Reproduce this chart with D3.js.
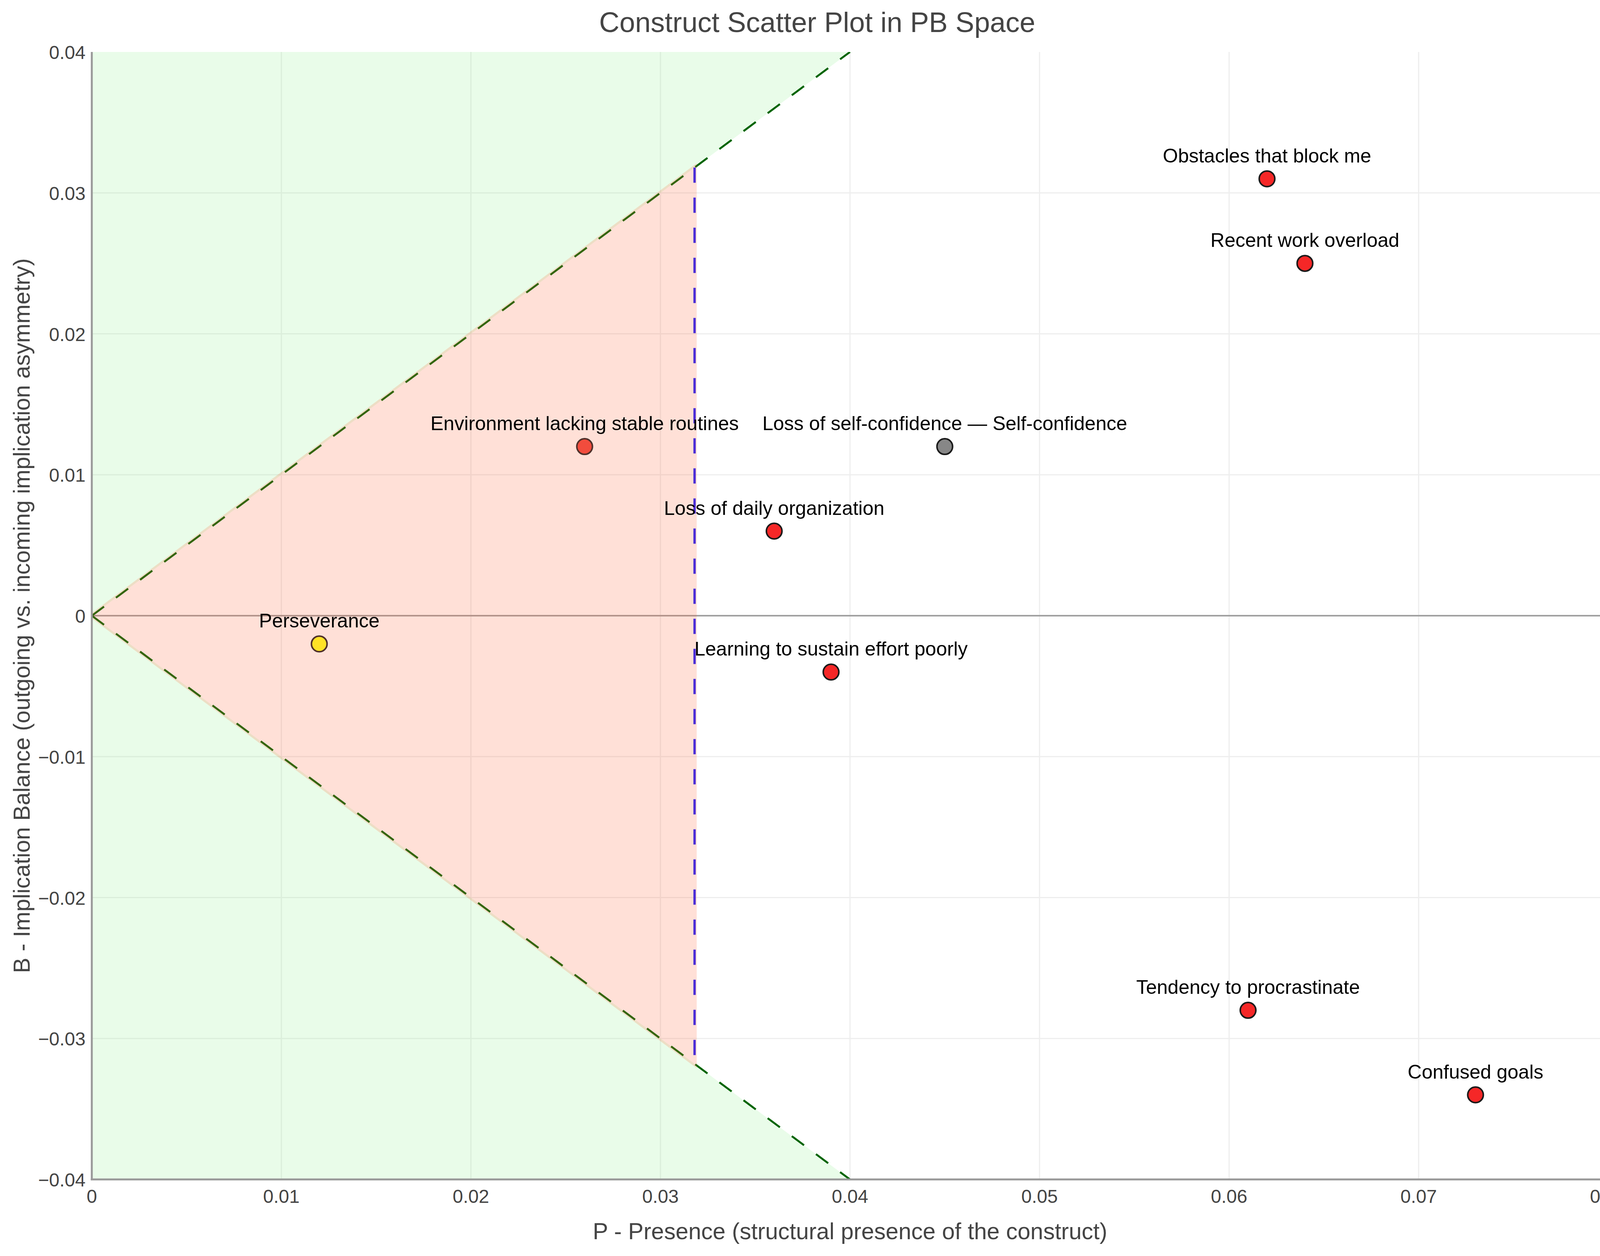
<!DOCTYPE html>
<html>
<head>
<meta charset="utf-8">
<script src="https://cdn.jsdelivr.net/npm/d3@7"></script>
<style>
  html, body { margin: 0; padding: 0; background: #fff; }
  svg { display: block; }
  text { font-family: "Liberation Sans", Arial, Helvetica, sans-serif; }
</style>
</head>
<body>
<svg id="chart" width="4183" height="3215"></svg>
<script>
// ---------- Data ----------
const constructNames = [
  "Obstacles that block me",
  "Recent work overload",
  "Environment lacking stable routines",
  "Loss of self-confidence — Self-confidence",
  "Loss of daily organization",
  "Perseverance",
  "Learning to sustain effort poorly",
  "Tendency to procrastinate",
  "Confused goals"
];
const presenceP = [0.062, 0.064, 0.026, 0.045, 0.036, 0.012, 0.039, 0.061, 0.073];
const balanceB  = [0.031, 0.025, 0.012, 0.012, 0.006, -0.002, -0.004, -0.028, -0.034];
const pointFill = ["#f52727", "#f52727", "#f24c3d", "#878787", "#f52727", "#ffe226", "#f52727", "#f52727", "#f52727"];
const pointStroke = ["#1a1a1a", "#1a1a1a", "#50302a", "#1a1a1a", "#1a1a1a", "#50302a", "#1a1a1a", "#1a1a1a", "#1a1a1a"];

const xTicks = [0, 0.01, 0.02, 0.03, 0.04, 0.05, 0.06, 0.07, 0.08];
const xTickLabels = ["0", "0.01", "0.02", "0.03", "0.04", "0.05", "0.06", "0.07", "0.08"];
const yTicks = [-0.04, -0.03, -0.02, -0.01, 0, 0.01, 0.02, 0.03, 0.04];
const yTickLabels = ["\u22120.04", "\u22120.03", "\u22120.02", "\u22120.01", "0", "0.01", "0.02", "0.03", "0.04"];

const xDomain = [0, 0.08];
const yDomain = [-0.04, 0.04];
const pThreshold = 0.0318;   // vertical dashed threshold
const coneEnd = 0.04;        // cone lines y = ±x up to here

const titleText = "Construct Scatter Plot in PB Space";
const xTitle = "P - Presence (structural presence of the construct)";
const yTitle = "B - Implication Balance (outgoing vs. incoming implication asymmetry)";

// ---------- Layout ----------
const svg = d3.select("#chart");
const L = 235, R = 4117, T = 133, Bt = 3019;
const x = d3.scaleLinear().domain(xDomain).range([L, R]);
const y = d3.scaleLinear().domain(yDomain).range([Bt, T]);

svg.append("defs").append("clipPath").attr("id", "plotclip")
  .append("rect").attr("x", L).attr("y", T).attr("width", R - L).attr("height", Bt - T);

const plot = svg.append("g").attr("clip-path", "url(#plotclip)");

// Gridlines
plot.append("g").selectAll("line.vg")
  .data(xTicks.filter(v => v > xDomain[0] && v < xDomain[1]))
  .join("line")
  .attr("x1", d => x(d)).attr("x2", d => x(d))
  .attr("y1", T).attr("y2", Bt)
  .attr("stroke", "#eeeeee").attr("stroke-width", 3);
plot.append("g").selectAll("line.hg")
  .data(yTicks.filter(v => v > yDomain[0] && v < yDomain[1] && v !== 0))
  .join("line")
  .attr("x1", L).attr("x2", R)
  .attr("y1", d => y(d)).attr("y2", d => y(d))
  .attr("stroke", "#eeeeee").attr("stroke-width", 3);

// Green regions (outside the cone, up to coneEnd)
const greenPolys = [
  [[0, 0], [0, yDomain[1]], [coneEnd, yDomain[1]]],
  [[0, 0], [0, yDomain[0]], [coneEnd, yDomain[0]]]
];
plot.append("g").selectAll("path")
  .data(greenPolys)
  .join("path")
  .attr("d", d => "M" + d.map(p => x(p[0]) + "," + y(p[1])).join("L") + "Z")
  .attr("fill", "rgba(144,238,144,0.2)");

// Zero line
plot.append("line")
  .attr("x1", L).attr("x2", R).attr("y1", y(0)).attr("y2", y(0))
  .attr("stroke", "#a0a0a0").attr("stroke-width", 4);

// Cone dashed lines y = ±x
const coneLines = [[[0, 0], [coneEnd, coneEnd]], [[0, 0], [coneEnd, -coneEnd]]];
plot.append("g").selectAll("line")
  .data(coneLines)
  .join("line")
  .attr("x1", d => x(d[0][0])).attr("y1", d => y(d[0][1]))
  .attr("x2", d => x(d[1][0])).attr("y2", d => y(d[1][1]))
  .attr("stroke", "#006400").attr("stroke-width", 5)
  .attr("stroke-dasharray", "39,38");

// Vertical threshold dashed line
plot.append("line")
  .attr("x1", x(pThreshold)).attr("x2", x(pThreshold))
  .attr("y1", y(pThreshold)).attr("y2", y(-pThreshold))
  .attr("stroke", "rgb(30,32,255)").attr("stroke-width", 6)
  .attr("stroke-dasharray", "39,38");

// Pink cone region (drawn over lines)
const pinkPoly = [[0, 0], [pThreshold, pThreshold], [pThreshold, -pThreshold]];
plot.append("g").attr("opacity", 0.2)
  .append("path")
  .attr("d", "M" + pinkPoly.map(p => x(p[0]) + "," + y(p[1])).join("L") + "Z")
  .attr("fill", "rgb(255,105,60)")
  .attr("stroke", "rgb(255,105,60)")
  .attr("stroke-width", 11)
  .attr("stroke-linejoin", "miter");

// Axis lines
svg.append("line").attr("x1", L).attr("x2", L).attr("y1", T).attr("y2", Bt + 2)
  .attr("stroke", "#999").attr("stroke-width", 5);
svg.append("line").attr("x1", L - 2.5).attr("x2", R).attr("y1", Bt).attr("y2", Bt)
  .attr("stroke", "#999").attr("stroke-width", 5);

// Tick labels
svg.append("g").selectAll("text")
  .data(xTicks)
  .join("text")
  .attr("x", d => x(d)).attr("y", 3079)
  .attr("text-anchor", "middle")
  .attr("font-size", 48).attr("fill", "#444")
  .text((d, i) => xTickLabels[i]);
svg.append("g").selectAll("text")
  .data(yTicks)
  .join("text")
  .attr("x", 219).attr("y", d => y(d) + 18)
  .attr("text-anchor", "end")
  .attr("font-size", 48).attr("fill", "#444")
  .text((d, i) => yTickLabels[i]);

// Points
const pts = constructNames.map((n, i) => ({ name: n, p: presenceP[i], b: balanceB[i], fill: pointFill[i], stroke: pointStroke[i] }));
svg.append("g").selectAll("circle")
  .data(pts)
  .join("circle")
  .attr("cx", d => x(d.p)).attr("cy", d => y(d.b))
  .attr("r", 20)
  .attr("fill", d => d.fill)
  .attr("stroke", d => d.stroke)
  .attr("stroke-width", 4);

// Point labels
svg.append("g").selectAll("text")
  .data(pts)
  .join("text")
  .attr("x", d => x(d.p)).attr("y", d => y(d.b) - 42)
  .attr("text-anchor", "middle")
  .attr("font-size", 50).attr("fill", "#000")
  .text(d => d.name);

// Titles
svg.append("text")
  .attr("x", 2092).attr("y", 82)
  .attr("text-anchor", "middle")
  .attr("font-size", 72).attr("fill", "#444")
  .text(titleText);
svg.append("text")
  .attr("x", (L + R) / 2).attr("y", 3172)
  .attr("text-anchor", "middle")
  .attr("font-size", 59).attr("fill", "#444")
  .text(xTitle);
svg.append("text")
  .attr("transform", `translate(76,${(T + Bt) / 2}) rotate(-90)`)
  .attr("text-anchor", "middle")
  .attr("font-size", 59).attr("fill", "#444")
  .text(yTitle);
</script>
</body>
</html>
